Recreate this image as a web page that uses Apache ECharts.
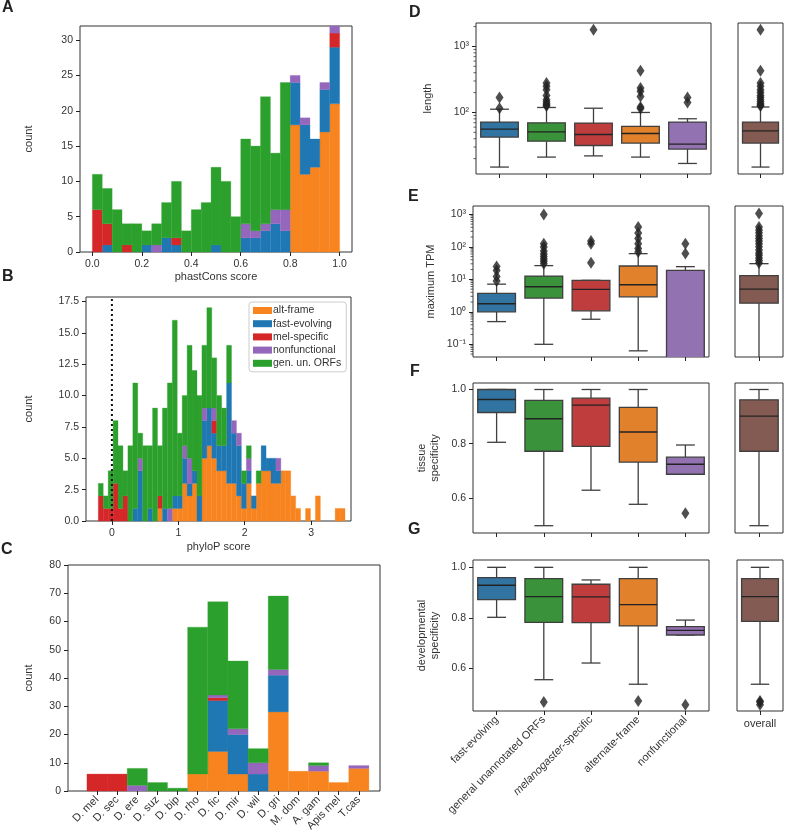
<!DOCTYPE html>
<html>
<head>
<meta charset="utf-8">
<script src="https://cdn.jsdelivr.net/npm/echarts@6/dist/echarts.min.js"></script>
<style>
html, body { margin: 0; padding: 0; background: #fff; }
#chart { width: 786px; height: 834px; }
</style>
</head>
<body>
<div id="chart"></div>
<script>
// ---- data ----
var layerNames = ['alt-frame', 'fast-evolving', 'mel-specific', 'nonfunctional', 'gen. un. ORFs'];
var layerColors = ['#f7841f', '#1f77b4', '#d62728', '#9467bd', '#2ca02c'];

// A: phastCons histogram, 25 bins on [0, 1]
var phastStart = 0, phastWidth = 0.04;
var phastAlt  = [0,0,0,0,0,0,0,0,0,0, 0,0,0,0,0,0,0,0,0,0, 18,11,12,17,21];
var phastFast = [0,1,0,0,0,1,0,2,1,0, 0,0,1,0,0,2,2,3,4,3, 6,7,4,6,8];
var phastMel  = [6,3,0,1,0,0,0,0,1,0, 0,0,0,0,0,0,0,0,0,0, 0,0,0,0,2];
var phastNon  = [0,0,0,0,0,0,1,0,0,0, 0,0,0,0,0,2,1,1,2,3, 1,1,0,1,1];
var phastGen  = [5,5,6,3,4,2,3,5,8,3, 6,7,11,10,5,12,12,18,8,18, 0,0,0,0,0];

// B: phyloP histogram, 50 bins
var phyloStart = -0.205, phyloWidth = 0.0743;
var phyloAlt  = [0,0,0,0,0,0,0,0,0,0, 0,0,1,0,0,1,1,3,2,3, 0,5,6,5,4,4,3,3,2,1, 3,1,3,4,4,3,3,4,4,2, 1,0,1,0,2,0,0,0,1,1];
var phyloFast = [0,0,0,0,0,0,0,1,4,0, 1,0,0,1,0,1,1,2,1,1, 2,3,3,2,2,2,8,4,4,2, 1,1,0,2,1,2,1,0,0,0, 0,0,0,0,0,0,0,0,0,0];
var phyloMel  = [2,1,1,3,1,2,0,0,0,0, 0,0,1,0,0,0,0,0,0,0, 0,0,0,1,0,0,0,0,0,0, 0,0,0,0,0,0,0,0,0,0, 0,0,0,0,0,0,0,0,0,0];
var phyloNon  = [0,0,0,0,0,0,0,0,1,0, 0,0,0,0,1,0,0,1,2,0, 0,1,0,1,0,0,0,1,1,0, 1,0,0,0,0,0,1,0,0,0, 0,0,0,0,0,0,0,0,0,0];
var phyloGen  = [1,1,3,5,5,2,6,10,2,6, 5,9,4,8,10,14,5,4,9,8, 8,5,8,4,4,3,3,0,0,1, 1,0,1,0,0,0,0,0,0,0, 0,0,0,0,0,0,0,0,0,0];

// C: species
var species = ['D. mel', 'D. sec', 'D. ere', 'D. suz', 'D. bip', 'D. rho', 'D. fic', 'D. mir', 'D. wil', 'D. gri', 'M. dom', 'A. gam', 'Apis mel', 'T.cas'];
var spAlt  = [0,0,0,0,0,6,14,6,0,28,7,7,3,8];
var spFast = [0,0,0,0,0,0,18,14,6,13,0,0,0,0];
var spMel  = [6,6,0,0,0,0,1,0,0,0,0,0,0,0];
var spNon  = [0,0,2,0,0,0,1,2,4,2,0,2,0,1];
var spGen  = [0,0,6,3,1,52,33,24,5,26,0,1,0,0];

// D-G: box plots, rows are [low whisker, Q1, median, Q3, high whisker]
var boxNames = ['fast-evolving', 'general unannotated ORFs', 'melanogaster-specific', 'alternate-frame', 'nonfunctional'];
var boxColors = ['#3274a1', '#3a923a', '#c03d3e', '#e1812c', '#9372b2'];
var overallColor = '#845b53';

var lengthStats = [[14.9, 42.4, 56, 71.5, 112], [21.1, 36.8, 51, 69.8, 119], [22, 31.6, 46.4, 69, 116], [21.1, 34.4, 48, 61.4, 100], [16.9, 27.9, 33.2, 71.5, 80.3]];
var lengthOverall = [14.9, 34.4, 52.8, 71.5, 121];
var lengthOutliers = [[116, 169], [125, 130, 136, 145, 156, 180, 221, 250, 279], [1791], [115, 121, 175, 210, 235, 428], [141, 169]];
var lengthOverallOutliers = [125, 130, 136, 145, 156, 169, 180, 200, 221, 250, 279, 428, 1791];
var lengthMinorTicks = [20, 30, 40, 50, 60, 70, 80, 90, 200, 300, 400, 500, 600, 700, 800, 900, 2000];

var tpmStats = [[0.5, 1.0, 1.77, 3.7, 7.1], [0.1, 2.64, 5.9, 12.6, 26.4], [0.59, 1.07, 4.9, 9.3, 9.3], [0.063, 2.9, 6.8, 25.7, 61.7], [0.005, 0.01, 0.02, 18.9, 24.5]];
var tpmOverall = [0.01, 1.85, 5.0, 12.9, 30.3];
var tpmOutliers = [[8.8, 12.3, 18.8, 25], [30, 36, 42, 50, 60, 75, 99, 125, 987], [32.6, 125, 151], [69, 88, 125, 179, 268, 410], [62, 125]];
var tpmOverallOutliers = [32, 38, 45, 55, 65, 80, 100, 125, 150, 180, 220, 270, 330, 410, 1055];
var tpmMinorTicks = [0.05, 0.06, 0.07, 0.08, 0.09, 0.2, 0.3, 0.4, 0.5, 0.6, 0.7, 0.8, 0.9, 2, 3, 4, 5, 6, 7, 8, 9,
    20, 30, 40, 50, 60, 70, 80, 90, 200, 300, 400, 500, 600, 700, 800, 900];

var tissueStats = [[0.805, 0.915, 0.963, 1.0, 1.0], [0.497, 0.772, 0.892, 0.96, 1.0], [0.628, 0.79, 0.942, 0.968, 1.0], [0.576, 0.732, 0.843, 0.934, 1.0], [0.687, 0.687, 0.724, 0.75, 0.795]];
var tissueOverall = [0.497, 0.772, 0.902, 0.962, 1.0];
var tissueOutliers = [[], [], [], [], [0.543]];
var tissueOverallOutliers = [];

var devStats = [[0.802, 0.872, 0.929, 0.959, 1.0], [0.555, 0.782, 0.884, 0.955, 1.0], [0.621, 0.781, 0.883, 0.933, 0.95], [0.537, 0.768, 0.852, 0.955, 1.0], [0.732, 0.732, 0.75, 0.765, 0.791]];
var devOverall = [0.537, 0.786, 0.884, 0.955, 1.0];
var devOutliers = [[], [0.467], [], [0.471], [0.456]];
var devOverallOutliers = [0.456, 0.467, 0.471];

// ---- helpers ----
var FONT = 'Liberation Sans, Arial, sans-serif';
var TXT = '#333';
var EDGE = '#3f3f3f';

function histSeries(gridIdx, name, color, starts, widths, counts, base) {
    var data = [];
    for (var i = 0; i < counts.length; i++) {
        if (counts[i] > 0) data.push([starts[i], starts[i] + widths[i], base[i], base[i] + counts[i]]);
        base[i] += counts[i];
    }
    return {
        type: 'custom', name: name, xAxisIndex: gridIdx, yAxisIndex: gridIdx,
        itemStyle: { color: color }, silent: true,
        encode: { x: [0, 1], y: [2, 3] },
        data: data,
        renderItem: function (params, api) {
            var p0 = api.coord([api.value(0), api.value(3)]);
            var p1 = api.coord([api.value(1), api.value(2)]);
            return { type: 'rect', shape: { x: p0[0], y: p0[1], width: p1[0] - p0[0], height: p1[1] - p0[1] },
                style: { fill: color, stroke: color, lineWidth: 0.3 } };
        }
    };
}

function stackedHist(gridIdx, start, width, layers) {
    var n = layers[0].length, starts = [], widths = [], base = [];
    for (var i = 0; i < n; i++) { starts.push(start + i * width); widths.push(width); base.push(0); }
    return layers.map(function (counts, j) {
        return histSeries(gridIdx, layerNames[j], layerColors[j], starts, widths, counts, base);
    });
}

function boxSeries(gridIdx, rows, colors) {
    return {
        type: 'custom', xAxisIndex: gridIdx, yAxisIndex: gridIdx, clip: true, silent: true,
        encode: { x: 0, y: [1, 2, 3, 4, 5] },
        data: rows.map(function (r, i) { return [i, r[0], r[1], r[2], r[3], r[4]]; }),
        renderItem: function (params, api) {
            var i = api.value(0);
            var bw = api.size([1, 1])[0] * 0.8;
            var lo = api.coord([i, api.value(1)]), q1 = api.coord([i, api.value(2)]),
                md = api.coord([i, api.value(3)]), q3 = api.coord([i, api.value(4)]),
                hi = api.coord([i, api.value(5)]);
            var cx = lo[0], h = bw / 2, c = bw / 4;
            var ls = { stroke: EDGE, lineWidth: 1.3 };
            return { type: 'group', children: [
                { type: 'line', shape: { x1: cx, y1: hi[1], x2: cx, y2: q3[1] }, style: ls },
                { type: 'line', shape: { x1: cx, y1: q1[1], x2: cx, y2: lo[1] }, style: ls },
                { type: 'line', shape: { x1: cx - c, y1: hi[1], x2: cx + c, y2: hi[1] }, style: ls },
                { type: 'line', shape: { x1: cx - c, y1: lo[1], x2: cx + c, y2: lo[1] }, style: ls },
                { type: 'rect', shape: { x: cx - h, y: q3[1], width: bw, height: q1[1] - q3[1] },
                    style: { fill: colors[params.dataIndex], stroke: EDGE, lineWidth: 1.3 } },
                { type: 'line', shape: { x1: cx - h, y1: md[1], x2: cx + h, y2: md[1] }, style: { stroke: '#222', lineWidth: 1.3 } }
            ] };
        }
    };
}

function outlierSeries(gridIdx, lists) {
    var data = [];
    lists.forEach(function (vals, i) { vals.forEach(function (v) { data.push([i, v]); }); });
    return { type: 'scatter', xAxisIndex: gridIdx, yAxisIndex: gridIdx, symbol: 'diamond', symbolSize: [8, 12],
        itemStyle: { color: '#222' }, silent: true, data: data, z: 5 };
}

// short outward marks on the left edge of a log axis (minor ticks)
function minorTickSeries(gridIdx, vals) {
    return { type: 'custom', xAxisIndex: gridIdx, yAxisIndex: gridIdx, silent: true, clip: false,
        encode: { x: 0, y: 1 },
        data: vals.map(function (v) { return [0, v]; }),
        renderItem: function (params, api) {
            var y = api.coord([0, api.value(1)])[1];
            var x0 = params.coordSys.x;
            return { type: 'line', shape: { x1: x0 - 2.5, y1: y, x2: x0, y2: y }, style: { stroke: TXT, lineWidth: 0.8 } };
        } };
}

var sup = { '-': '\u207b', '0': '\u2070', '1': '\u00b9', '2': '\u00b2', '3': '\u00b3' };
function logLabel(v) {
    var e = Math.round(Math.log10(v));
    if (Math.abs(Math.log10(v) - e) > 1e-6) return '';
    return '10' + String(e).split('').map(function (ch) { return sup[ch]; }).join('');
}

var tickStyle = { show: true, length: 4, lineStyle: { color: '#222', width: 1 } };
var labelStyle = { color: TXT, fontSize: 10.5, fontFamily: FONT, margin: 7 };
var noLine = { show: false, onZero: false };
function frame(g) {
    g.show = true; g.borderColor = '#333'; g.borderWidth = 1; return g;
}

var grids = [
    frame({ left: 80, top: 26, width: 272, height: 226 }),   // A
    frame({ left: 86, top: 297, width: 265, height: 224 }),  // B
    frame({ left: 68, top: 565, width: 312, height: 226 }),  // C
    frame({ left: 476, top: 23, width: 235, height: 151 }),  // D
    frame({ left: 738, top: 23, width: 45, height: 151 }),
    frame({ left: 473, top: 206, width: 236, height: 151 }), // E
    frame({ left: 735, top: 206, width: 48, height: 151 }),
    frame({ left: 473, top: 383, width: 236, height: 150 }), // F
    frame({ left: 735, top: 383, width: 48, height: 150 }),
    frame({ left: 473, top: 560, width: 236, height: 151 }), // G
    frame({ left: 737, top: 560, width: 46, height: 151 })
];

function valueAxisX(gi, min, max, ticks, fmt, name, gap, extra) {
    var ax = { type: 'value', gridIndex: gi, min: min, max: max, splitLine: { show: false },
        axisLine: noLine,
        axisTick: Object.assign({ customValues: ticks }, tickStyle),
        axisLabel: Object.assign({ customValues: ticks, formatter: fmt }, labelStyle),
        name: name, nameLocation: 'middle', nameGap: gap,
        nameTextStyle: { color: TXT, fontSize: 11, fontFamily: FONT } };
    return Object.assign(ax, extra || {});
}
function valueAxisY(gi, min, max, ticks, fmt, name, gap) {
    return { type: 'value', gridIndex: gi, min: min, max: max, splitLine: { show: false },
        axisLine: noLine,
        axisTick: Object.assign({ customValues: ticks }, tickStyle),
        axisLabel: Object.assign({ customValues: ticks, formatter: fmt }, labelStyle),
        name: name, nameLocation: 'middle', nameRotate: 90, nameGap: gap,
        nameTextStyle: { color: TXT, fontSize: 11, fontFamily: FONT, lineHeight: 13 } };
}
function logAxisY(gi, min, max, name, gap, showLabels) {
    return { type: 'log', logBase: 10, gridIndex: gi, min: min, max: max, splitLine: { show: false },
        axisLine: noLine,
        axisTick: showLabels ? tickStyle : { show: false },
        axisLabel: Object.assign({ show: showLabels, formatter: logLabel, showMinLabel: false, showMaxLabel: false }, labelStyle),
        name: name, nameLocation: 'middle', nameRotate: 90, nameGap: gap,
        nameTextStyle: { color: TXT, fontSize: 11, fontFamily: FONT } };
}
function catAxisX(gi, cats, showLabels, rotate) {
    return { type: 'category', gridIndex: gi, data: cats, axisLine: noLine,
        axisTick: Object.assign({ alignWithLabel: true }, tickStyle),
        axisLabel: Object.assign({ show: showLabels, rotate: rotate, interval: 0, fontSize: 11,
            formatter: function (v) { return v === 'melanogaster-specific' ? '{i|melanogaster}-specific' : v; },
            rich: { i: { fontStyle: 'italic', fontSize: 11, color: TXT, fontFamily: FONT } } }, { color: TXT, fontFamily: FONT, margin: 7 }) };
}
function plainY(gi, min, max) {
    return { type: 'value', gridIndex: gi, min: min, max: max, splitLine: { show: false },
        axisLine: noLine, axisTick: { show: false }, axisLabel: { show: false } };
}

var fixed1 = function (v) { return v.toFixed(1); };
var plain = function (v) { return String(v); };
var spTicks = [0, 1, 2, 3, 4, 5, 6, 7, 8, 9, 10, 11, 12, 13];

var xAxes = [
    valueAxisX(0, -0.05, 1.05, [0, 0.2, 0.4, 0.6, 0.8, 1.0], fixed1, 'phastCons score', 19),
    valueAxisX(1, -0.39, 3.6, [0, 1, 2, 3], plain, 'phyloP score', 20),
    valueAxisX(2, -1.44, 14.05, spTicks, function (v) { return species[v]; }, '', 0,
        { axisLabel: Object.assign({}, labelStyle, { customValues: spTicks, rotate: 45, fontSize: 11,
            formatter: function (v) { return species[v]; } }) }),
    catAxisX(3, boxNames, false, 0),
    catAxisX(4, ['overall'], false, 0),
    catAxisX(5, boxNames, false, 0),
    catAxisX(6, ['overall'], false, 0),
    catAxisX(7, boxNames, false, 0),
    catAxisX(8, ['overall'], false, 0),
    catAxisX(9, boxNames, true, 45),
    catAxisX(10, ['overall'], true, 0)
];

var yAxes = [
    valueAxisY(0, 0, 32, [0, 5, 10, 15, 20, 25, 30], plain, 'count', 45),
    valueAxisY(1, 0, 17.85, [0, 2.5, 5, 7.5, 10, 12.5, 15, 17.5], fixed1, 'count', 51),
    valueAxisY(2, 0, 80, [0, 10, 20, 30, 40, 50, 60, 70, 80], plain, 'count', 33),
    logAxisY(3, 11.7, 2265, 'length', 43, true),
    logAxisY(4, 11.7, 2265, '', 0, false),
    logAxisY(5, 0.0407, 1803, 'maximum TPM', 37, true),
    logAxisY(6, 0.0407, 1803, '', 0, false),
    valueAxisY(7, 0.470, 1.024, [0.6, 0.8, 1.0], fixed1, 'tissue\nspecificity', 32),
    plainY(8, 0.470, 1.024),
    valueAxisY(9, 0.431, 1.029, [0.6, 0.8, 1.0], fixed1, 'developmental\nspecificity', 32),
    plainY(10, 0.431, 1.029)
];

var series = [];
series = series.concat(stackedHist(0, phastStart, phastWidth, [phastAlt, phastFast, phastMel, phastNon, phastGen]));
series = series.concat(stackedHist(1, phyloStart, phyloWidth, [phyloAlt, phyloFast, phyloMel, phyloNon, phyloGen]));
series = series.concat(stackedHist(2, -0.5, 1, [spAlt, spFast, spMel, spNon, spGen]));
series.push({ type: 'line', xAxisIndex: 1, yAxisIndex: 1, data: [[0, 0], [0, 17.85]], symbol: 'none', silent: true, z: 4,
    lineStyle: { color: '#111', width: 2, type: [2, 3] } });

[[3, lengthStats, lengthOutliers, 4, lengthOverall, lengthOverallOutliers],
 [5, tpmStats, tpmOutliers, 6, tpmOverall, tpmOverallOutliers],
 [7, tissueStats, tissueOutliers, 8, tissueOverall, tissueOverallOutliers],
 [9, devStats, devOutliers, 10, devOverall, devOverallOutliers]].forEach(function (p) {
    series.push(boxSeries(p[0], p[1], boxColors));
    series.push(outlierSeries(p[0], p[2]));
    series.push(boxSeries(p[3], [p[4]], [overallColor]));
    series.push(outlierSeries(p[3], [p[5]]));
});
series.push(minorTickSeries(3, lengthMinorTicks));
series.push(minorTickSeries(5, tpmMinorTicks));

function panelLabel(t, x, y) {
    return { type: 'text', left: x, top: y, style: { text: t, fill: '#222', font: 'bold 16px ' + FONT } };
}

var chart = echarts.init(document.getElementById('chart'));
chart.setOption({
    animation: false,
    backgroundColor: '#fff',
    textStyle: { fontFamily: FONT },
    grid: grids,
    xAxis: xAxes,
    yAxis: yAxes,
    legend: {
        data: layerNames, orient: 'vertical', left: 249, top: 302, icon: 'rect',
        itemWidth: 19, itemHeight: 7, itemGap: 2.2, padding: [3, 5, 3, 4],
        backgroundColor: 'rgba(255,255,255,0.85)', borderColor: '#ccc', borderWidth: 1, borderRadius: 3,
        textStyle: { color: TXT, fontSize: 10.5, fontFamily: FONT, padding: [0, 0, 0, -4] },
        selectedMode: false
    },
    graphic: [
        panelLabel('A', 2, 0), panelLabel('B', 2, 269), panelLabel('C', 1, 542),
        panelLabel('D', 409, 5), panelLabel('E', 408, 189), panelLabel('F', 410, 364), panelLabel('G', 408, 522)
    ],
    series: series
});
</script>
</body>
</html>
